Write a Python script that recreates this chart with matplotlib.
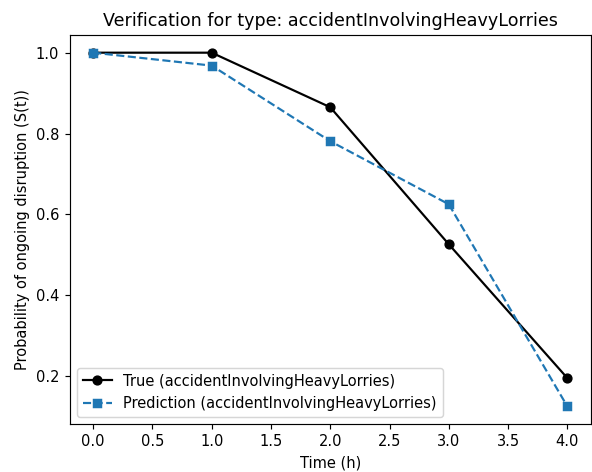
import matplotlib
matplotlib.use('Agg')
import matplotlib.pyplot as plt

event_type = 'accidentInvolvingHeavyLorries'
time_h = [0.0, 1.0, 2.0, 3.0, 4.0]
true_surv = [1.0, 1.0, 0.865, 0.526, 0.195]
pred_surv = [1.0, 0.968, 0.781, 0.625, 0.125]

dpi = 105
fig = plt.figure(figsize=(592 / dpi, 472 / dpi), dpi=dpi)
ax = fig.add_axes([69.5 / 592, 1 - 424 / 472, (591 - 69.5) / 592, (424 - 35) / 472])
ax.plot(time_h, true_surv, marker='o', color='black', linestyle='-',
        label=f'True ({event_type})')
ax.plot(time_h, pred_surv, marker='s', color='tab:blue', linestyle='--',
        label=f'Prediction ({event_type})')
ax.set_title(f'Verification for type: {event_type}')
ax.set_xlabel('Time (h)')
ax.set_ylabel('Probability of ongoing disruption (S(t))')
ax.legend(loc='lower left')
fig.savefig('out.png', dpi=dpi)
